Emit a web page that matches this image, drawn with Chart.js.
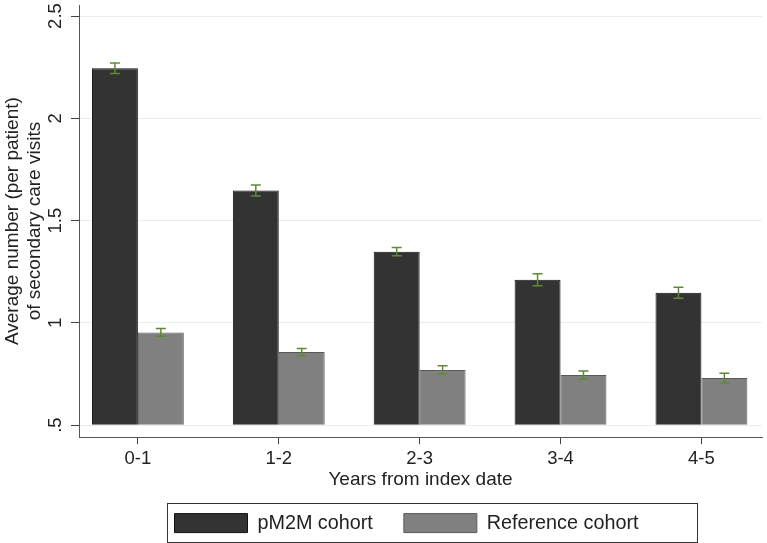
<!DOCTYPE html>
<html>
<head>
<meta charset="utf-8">
<script src="https://cdn.jsdelivr.net/npm/chart.js@4.4.1/dist/chart.umd.min.js"></script>
<style>
  html, body { margin: 0; padding: 0; background: #fff; }
  #wrap { width: 767px; height: 543px; }
</style>
</head>
<body>
<div id="wrap"><canvas id="myChart" width="767" height="543"></canvas></div>
<script>
// categories and values
const years = ['0-1', '1-2', '2-3', '3-4', '4-5'];
const pm2m = [2.245, 1.647, 1.348, 1.211, 1.147];
const pm2mErr = [0.026, 0.027, 0.02, 0.029, 0.027];
const reference = [0.953, 0.858, 0.770, 0.745, 0.730];
const referenceErr = [0.019, 0.017, 0.02, 0.02, 0.024];
const yTicks = [0.5, 1, 1.5, 2, 2.5];
const yTickLabels = ['.5', '1', '1.5', '2', '2.5'];

Chart.defaults.font.family = "'Liberation Sans', Arial, sans-serif";
Chart.defaults.color = '#222';

const toPoints = (vals) => vals.map((v, i) => ({ x: i, y: v }));

// draws the +/- error caps on every bar
const errorBars = {
  id: 'errorBars',
  afterDatasetsDraw(chart) {
    const ctx = chart.ctx;
    const yScale = chart.scales.y;
    chart.data.datasets.forEach((ds, di) => {
      const meta = chart.getDatasetMeta(di);
      meta.data.forEach((bar, i) => {
        const v = ds.data[i].y, e = ds.errors[i];
        const top = yScale.getPixelForValue(v + e);
        const bot = yScale.getPixelForValue(v - e);
        ctx.save();
        ctx.strokeStyle = '#5f8a35';
        ctx.lineWidth = 1.5;
        ctx.beginPath();
        ctx.moveTo(bar.x, top); ctx.lineTo(bar.x, bot);
        ctx.moveTo(bar.x - 5, top); ctx.lineTo(bar.x + 5, top);
        ctx.moveTo(bar.x - 5, bot); ctx.lineTo(bar.x + 5, bot);
        ctx.stroke();
        ctx.restore();
      });
    });
  }
};

// nudge the legend a bit left, then frame it like the Stata one
const LEGEND_SHIFT = 14;
const legendFrame = {
  id: 'legendFrame',
  afterLayout(chart) {
    const lg = chart.legend;
    lg.left -= LEGEND_SHIFT;
    lg.right -= LEGEND_SHIFT;
  },
  afterDraw(chart) {
    const lg = chart.legend;
    const pad = lg.options.labels.padding;
    const w = lg.lineWidths[0];
    const x0 = (lg.left + pad + lg.right - w) / 2;
    const x1 = x0 + w - pad;
    const ctx = chart.ctx;
    ctx.save();
    ctx.strokeStyle = '#333';
    ctx.lineWidth = 1;
    ctx.strokeRect(Math.round(x0 - 8) + 0.5, Math.round(lg.bottom - 40) + 0.5,
      Math.round(x1 + 58 - (x0 - 8)), 39);
    ctx.restore();
  }
};

const data = {
  datasets: [
    {
      label: 'pM2M cohort',
      data: toPoints(pm2m),
      errors: pm2mErr,
      base: 0.5,
      backgroundColor: '#333333',
      borderColor: '#111',
      borderWidth: 1,
      categoryPercentage: 0.652,
      barPercentage: 1
    },
    {
      label: 'Reference cohort',
      data: toPoints(reference),
      errors: referenceErr,
      base: 0.5,
      backgroundColor: '#808080',
      borderColor: '#5a5a5a',
      borderWidth: 1,
      categoryPercentage: 0.652,
      barPercentage: 1
    }
  ]
};

const config = {
  type: 'bar',
  data,
  options: {
    responsive: false,
    animation: false,
    layout: { padding: { top: 5, right: 5, left: 0, bottom: 0 } },
    plugins: {
      tooltip: { enabled: false },
      legend: {
        position: 'bottom',
        fullSize: false,
        labels: {
          boxWidth: 73,
          boxHeight: 19,
          padding: 31,
          font: { size: 19.8 },
          color: '#222'
        }
      }
    },
    scales: {
      x: {
        type: 'linear',
        min: -0.418,
        max: 4.43,
        offset: false,
        afterBuildTicks: (axis) => { axis.ticks = years.map((c, i) => ({ value: i })); },
        afterFit: (scale) => { scale.height = 45; scale.paddingLeft = 0; scale.paddingRight = 0; },
        ticks: {
          callback: (v) => years[v],
          font: { size: 18.5 },
          color: '#222',
          padding: 4,
          maxRotation: 0
        },
        grid: { offset: false, drawOnChartArea: false, drawTicks: true, tickLength: 7, tickColor: '#444' },
        border: { color: '#555', width: 1 },
        title: {
          display: true,
          text: 'Years from index date',
          font: { size: 19 },
          color: '#222',
          padding: { top: 0, bottom: -9 }
        }
      },
      y: {
        min: 0.441,
        max: 2.554,
        afterBuildTicks: (axis) => { axis.ticks = yTicks.map((v) => ({ value: v })); },
        afterFit: (scale) => { scale.width = 79; scale.paddingTop = 0; scale.paddingBottom = 0; },
        ticks: {
          callback: (v) => yTickLabels[yTicks.indexOf(v)],
          font: { size: 18.5 },
          color: '#222',
          minRotation: 90,
          maxRotation: 90,
          crossAlign: 'center',
          padding: 2
        },
        grid: { color: '#e6eff1', lineWidth: 1, tickLength: 8, tickColor: '#444' },
        border: { color: '#555', width: 1 },
        title: {
          display: true,
          text: ['Average number (per patient)', 'of secondary care visits'],
          font: { size: 19, lineHeight: 1.2 },
          color: '#222',
          padding: { top: 1, bottom: 0 }
        }
      }
    }
  },
  plugins: [errorBars, legendFrame]
};

let myChart = new Chart(document.getElementById('myChart'), config);
</script>
</body>
</html>
